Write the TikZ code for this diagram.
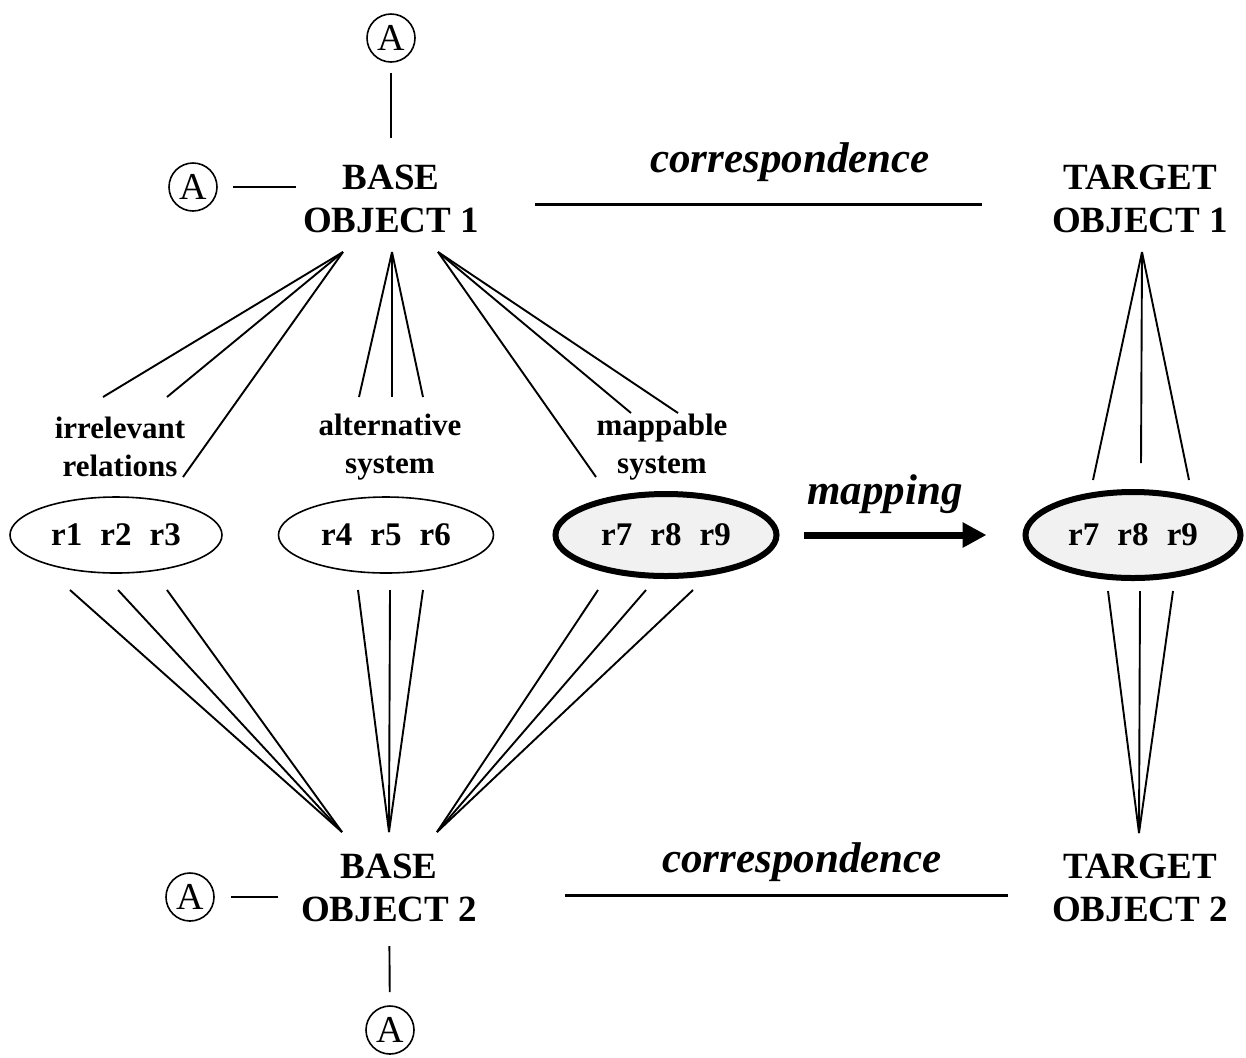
\documentclass[tikz,border=0pt]{standalone}
\usepackage{fontspec}
\setmainfont{Liberation Serif}
\usetikzlibrary{shapes.geometric, positioning, arrows.meta}

\begin{document}
\begin{tikzpicture}[x=0.5pt, y=-0.5pt,
    obj/.style={font=\fontsize{18.5}{21.5}\selectfont\bfseries, align=center},
    sysname/.style={font=\fontsize{15.5}{19}\selectfont\bfseries, align=center},
    corr/.style={font=\fontsize{21.5}{25}\selectfont\bfseries\itshape},
    anode/.style={circle, draw, line width=0.8pt, minimum size=24pt, inner sep=0pt,
      font=\fontsize{19}{22}\selectfont},
    rel/.style={ellipse, draw, line width=0.8pt, minimum width=106pt, minimum height=38pt,
      inner sep=0pt, font=\fontsize{16.5}{19}\selectfont\bfseries},
    maprel/.style={rel, line width=3pt, fill=gray!11, minimum width=110.5pt, minimum height=41pt},
    link/.style={line width=0.95pt},
    corrline/.style={line width=1.5pt}]
  \useasboundingbox (0,0) rectangle (1246,1057);

  % objects
  \node[obj] (base1) at (391,199) {BASE\\OBJECT 1};
  \node[obj] (target1) at (1140,199) {TARGET\\OBJECT 1};
  \node[obj] (base2) at (389,888) {BASE\\OBJECT 2};
  \node[obj] (target2) at (1140,888) {TARGET\\OBJECT 2};

  \node[anode] (a1) at (391,38) {A};
  \node[anode] (a2) at (193,187) {A};
  \node[anode] (a3) at (190,897) {A};
  \node[anode] (a4) at (390,1030) {A};

  \draw[link, shorten <=5pt, shorten >=10pt] (a1) -- (base1);
  \draw[link, shorten <=7.5pt] (a2.east) -- (a2.east -| base1.west);
  \draw[link, shorten <=8pt, shorten >=8pt] (a3.east) -- (a3.east -| base2.west);
  \draw[link, shorten <=8.5pt, shorten >=6.5pt] (base2) -- (a4);

  % correspondences
  \node[corr] (corr1) at (790,162) {correspondence};
  \node[corr] (corr2) at (802,862) {correspondence};
  \draw[corrline, shorten <=24.5pt, shorten >=31.5pt]
    ([yshift=-2.5pt]base1.east) -- ([yshift=-2.5pt]target1.west);
  \draw[corrline, shorten <=40.5pt, shorten >=18.5pt]
    ([yshift=-3.5pt]base2.east) -- ([yshift=-3.5pt]target2.west);

  % relation sets
  \node[sysname] (irr) at (120,447) {irrelevant\\relations};
  \node[sysname] (alt) at (390,447) {alternative\\system};
  \node[sysname] (mapl) at (662,447) {mappable\\system};

  \node[rel] (rel1) at (116,535) {r1\hspace{.55em}r2\hspace{.55em}r3};
  \node[rel, minimum width=107.5pt] (rel2) at (386,535) {r4\hspace{.55em}r5\hspace{.55em}r6};
  \node[maprel] (mapsys) at (666,535) {r7\hspace{.55em}r8\hspace{.55em}r9};
  \node[maprel, minimum width=107.5pt, minimum height=43pt] (tgtsys) at (1133,535)
    {r7\hspace{.55em}r8\hspace{.55em}r9};

  \node[corr] (maplbl) at (885,494) {mapping};
  \draw[line width=3.5pt, -{Triangle[length=12pt, width=12pt]},
    shorten <=12pt, shorten >=18pt] (mapsys) -- (tgtsys);

  % fans to base object 1
  \coordinate (up1) at (343,252);
  \coordinate (up2) at (392,252);
  \coordinate (up3) at (438,252);
  \foreach \x/\y [count=\i] in {103/397, 167/397, 183/477}
    \draw[link] (up1) -- (\x,\y) coordinate (irrtop\i);
  \foreach \x/\y [count=\i] in {359/397, 392/397, 423/397}
    \draw[link] (up2) -- (\x,\y) coordinate (alttop\i);
  \foreach \x/\y [count=\i] in {596/477, 631/413, 678/413}
    \draw[link] (up3) -- (\x,\y) coordinate (maptop\i);

  % fans to base object 2
  \coordinate (dn1) at (342,832);
  \coordinate (dn2) at (389,832);
  \coordinate (dn3) at (437,832);
  \foreach \x [count=\i] in {70, 118, 167}
    \draw[link] (\x,590) coordinate (irrbot\i) -- (dn1);
  \foreach \x [count=\i] in {358, 390, 423}
    \draw[link] (\x,590) coordinate (altbot\i) -- (dn2);
  \foreach \x [count=\i] in {598, 646, 693}
    \draw[link] (\x,590) coordinate (mapbot\i) -- (dn3);

  % target fans
  \coordinate (tup) at (1142,252);
  \coordinate (tdn) at (1139,833);
  \foreach \x/\y [count=\i] in {1093/480, 1141/463, 1189/480}
    \draw[link] (tup) -- (\x,\y) coordinate (tgttop\i);
  \foreach \x [count=\i] in {1108, 1140, 1173}
    \draw[link] (\x,591) coordinate (tgtbot\i) -- (tdn);
\end{tikzpicture}
\end{document}
